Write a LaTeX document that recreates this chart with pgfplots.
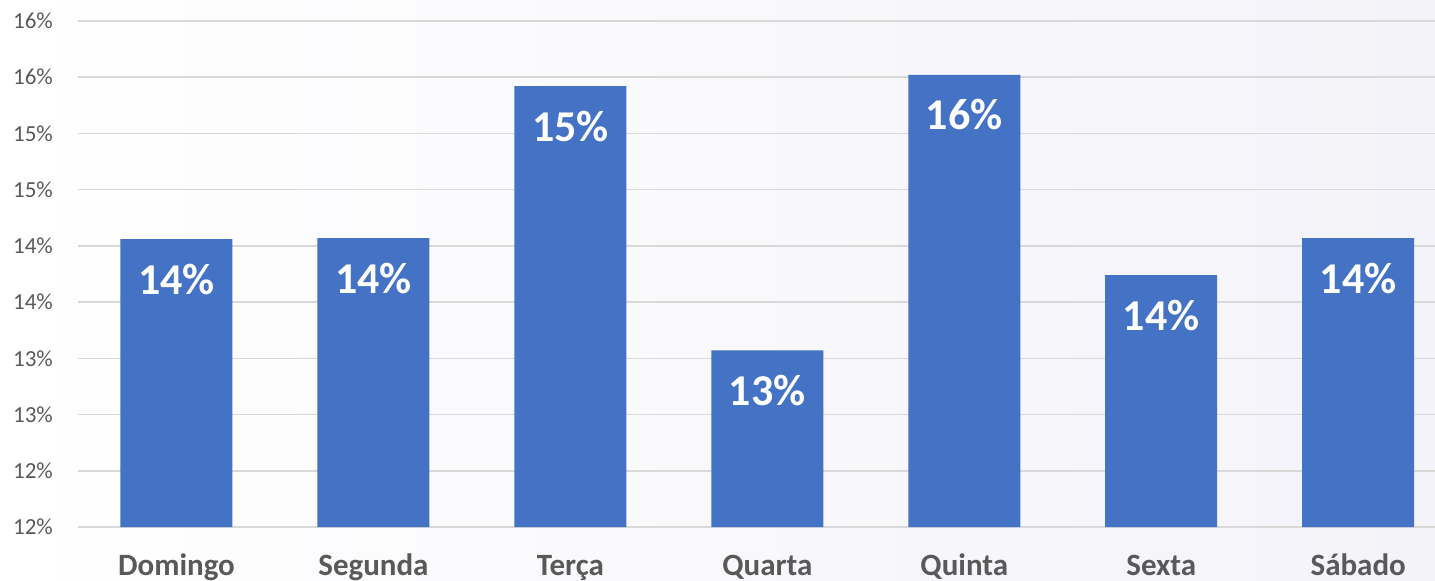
\documentclass[border=0pt]{standalone}
\usepackage{pgfplots}
\pgfplotsset{compat=1.18}
\usepackage{pgfplotstable}
\usepackage{fontspec}
\setmainfont{Carlito}
\definecolor{barblue}{HTML}{4472C4}
\definecolor{txtgray}{HTML}{595959}
\definecolor{gridgray}{HTML}{D9D9D9}
\definecolor{bgright}{HTML}{F3F3F9}
\pgfplotstableread{
x y lab
0 14.06 14\%
1 14.07 14\%
2 15.42 15\%
3 13.07 13\%
4 15.52 16\%
5 13.74 14\%
6 14.07 14\%
}\datatable
\begin{document}
\begin{tikzpicture}
\path[use as bounding box] (0,0) rectangle (717.5pt,290pt);
\shade[left color=white, right color=bgright] (0,0) rectangle (717.5pt,290pt);
\begin{axis}[
  at={(39pt,26.5pt)}, anchor=south west,
  scale only axis,
  width=678.5pt, height=253pt,
  xmin=-0.5, xmax=6.39,
  ymin=11.5, ymax=16,
  ytick={11.5,12,...,16},
  yticklabels={12\%,12\%,13\%,13\%,14\%,14\%,15\%,15\%,16\%,16\%},
  xtick={0,...,6},
  xticklabels={Domingo,Segunda,Terça,Quarta,Quinta,Sexta,Sábado},
  ymajorgrids,
  grid style={gridgray, line width=0.75pt},
  axis line style={draw=none},
  major tick length=0pt,
  yticklabel style={font=\fontsize{11.5}{12}\selectfont, text=txtgray, anchor=east, xshift=-9pt},
  xticklabel style={font=\fontsize{15.5}{16}\selectfont\bfseries, text=txtgray, anchor=base, yshift=-24pt},
  ybar, bar width=56pt,
  clip=false,
]
\addplot[fill=barblue, draw=none,
  point meta=explicit symbolic,
  nodes near coords,
  nodes near coords style={anchor=center, yshift=-20pt, text=white, font=\fontsize{22}{24}\selectfont\bfseries},
] table[x=x, y=y, meta=lab] {\datatable};
\end{axis}
\end{tikzpicture}
\end{document}
